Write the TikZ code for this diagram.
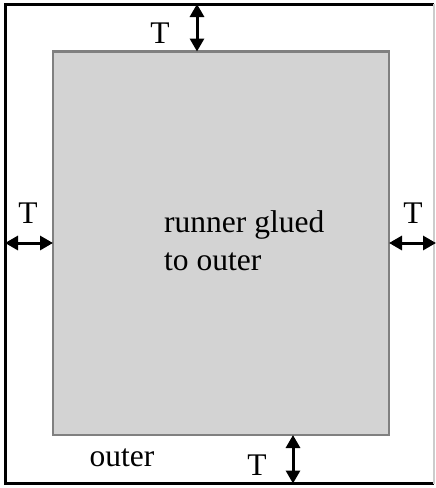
\documentclass[tikz,border=0pt]{standalone}
\usepackage{fontspec}
\setmainfont{Liberation Serif}
\usetikzlibrary{arrows.meta, positioning}

\begin{document}
\begin{tikzpicture}[
    x=1pt, y=-1pt,
    wall/.style = {black, line width=3pt},
    runner/.style = {fill={rgb,255:red,211;green,211;blue,211}, draw={rgb,255:red,128;green,128;blue,128}, line width=2.6pt},
    pil/.style = {black, line width=3pt, {Triangle[length=13pt,width=14pt]}-{Triangle[length=13pt,width=14pt]}},
    lbl/.style = {inner sep=0pt},
    font=\fontsize{31.5}{38}\selectfont
    ]

  \useasboundingbox (0,0) rectangle (436,488);

  % outer and runner
  \coordinate (oNW) at (5,4);
  \coordinate (oSE) at (434,483.5);
  \draw[wall] (oSE |- oNW) -- (oNW) -- (oNW |- oSE) -- (oSE);
  \draw[gray!40, line width=1.2pt] (oSE |- oNW) -- (oSE);

  \coordinate (rNW) at (53,51.5);
  \coordinate (rSE) at (389,435);
  \draw[runner] (rNW) rectangle (rSE);

  % ends of the gap arrows
  \coordinate (topA) at (197,4);
  \coordinate (topB) at (197,51.5);
  \coordinate (leftA) at (5,243);
  \coordinate (leftB) at (53,243);
  \coordinate (rightA) at (389,243);
  \coordinate (rightB) at (436,243);
  \coordinate (botA) at (293,435);
  \coordinate (botB) at (293,483.5);

  \draw[pil] (topA) -- (topB);
  \draw[pil] (leftA) -- (leftB);
  \draw[pil] (rightA) -- (rightB);
  \draw[pil] (botA) -- (botB);

  % labels
  \node[lbl] (tT) at (160,33) {T};
  \node[lbl] (tL) at (28,213) {T};
  \node[lbl] (tR) at (413,213) {T};
  \node[lbl] (tB) at (257,465) {T};
  \node[lbl] (outer) at (122,458) {outer};
  \node[lbl, anchor=west, align=left] (glued) at (164,241) {runner glued\\to outer};

\end{tikzpicture}
\end{document}
